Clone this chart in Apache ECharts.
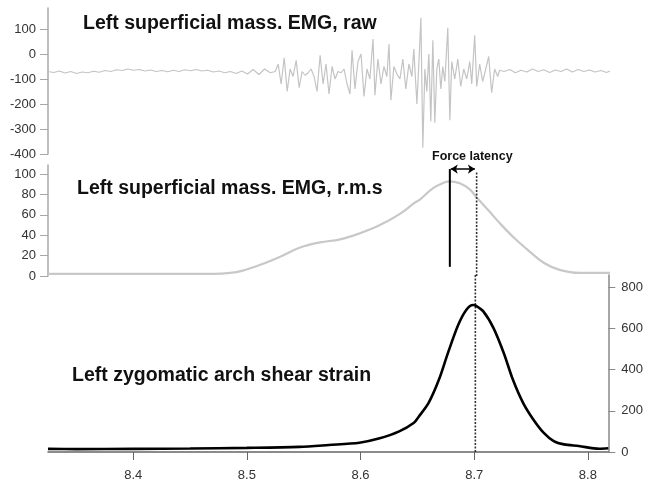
<!DOCTYPE html>
<html>
<head>
<meta charset="utf-8">
<script src="https://cdn.jsdelivr.net/npm/echarts@6/dist/echarts.min.js"></script>
<style>html,body{margin:0;padding:0;background:#fff}#c{width:646px;height:482px}</style>
</head>
<body>
<div id="c"></div>
<script>
// ---- data ----
var rawT = [8.325,8.330,8.335,8.340,8.345,8.350,8.355,8.360,8.365,8.370,8.375,8.380,8.385,8.390,8.395,8.400,8.405,8.410,8.415,8.420,8.425,8.430,8.435,8.440,8.445,8.450,8.455,8.460,8.465,8.470,8.475,8.480,8.485,8.490,8.495,8.500,8.505,8.510,8.515,8.520,
8.5243,8.5269,8.5295,8.5322,8.5348,8.5374,8.5400,8.5427,8.5453,8.5479,8.5505,8.5532,8.5558,8.5584,8.5610,8.5637,8.5663,8.5689,8.5715,8.5742,8.5768,8.5794,8.5821,8.5847,8.5873,8.5899,8.5917,8.5943,8.5969,8.5996,8.6022,8.6048,8.6074,8.6101,8.6118,8.6144,8.6171,8.6197,8.6223,8.6241,8.6258,8.6284,8.6311,8.6337,8.6363,8.6389,8.6416,8.6442,8.6459,8.6486,8.6503,8.6521,8.6538,8.6556,8.6573,8.6591,8.6608,8.6626,8.6643,8.6661,8.6678,8.6696,8.6713,8.6731,8.6757,8.6775,8.6792,8.6818,8.6845,8.6871,8.6897,8.6923,8.6950,8.6967,8.6993,8.7011,8.7037,8.7063,8.7090,8.7116,8.7142,8.7168,8.7195,8.7212,
8.725,8.730,8.735,8.740,8.745,8.750,8.755,8.760,8.765,8.770,8.775,8.780,8.785,8.790,8.795,8.800,8.805,8.810,8.815,8.818];
var rawV = [-70,-74,-68,-76,-70,-78,-72,-75,-69,-73,-66,-70,-63,-66,-60,-65,-62,-68,-64,-70,-66,-71,-65,-70,-63,-67,-62,-68,-65,-72,-68,-75,-70,-78,-68,-80,-62,-82,-60,-75,
-70,-40,-120,-15,-150,-60,-90,-25,-135,-70,-85,-75,-60,-90,-150,-5,-120,-40,-160,-50,-100,-70,-75,-60,-120,-160,15,-140,-30,0,-170,-60,-100,60,-165,-20,-120,-50,-90,40,-185,-50,-80,-100,-20,-140,-40,-90,20,-200,-40,145,-375,-60,-150,0,-270,55,-275,-60,-20,-140,-50,-110,105,-265,-30,-100,-20,-130,-60,-100,-30,-120,75,-130,-40,-110,-60,-10,-155,-60,-90,-65,
-70,-62,-75,-65,-72,-60,-70,-63,-74,-64,-70,-60,-72,-62,-70,-64,-72,-66,-74,-68];

var rmsT = [8.325,8.400,8.450,8.470,8.485,8.495,8.5112,8.5287,8.5462,8.5637,8.5812,8.5987,8.6162,8.6337,8.6468,8.6512,8.6626,8.6731,8.6775,8.6862,8.6950,8.7011,8.7125,8.7212,8.7343,8.7475,8.7606,8.7737,8.7912,8.818];
var rmsV = [2,2,2,2,3,5,11,19,28,33,36,42,50,61,72,75,86,92,93,91,85,77,63,52,37,24,12.5,6,3,3];

var strainT = [8.325,8.350,8.400,8.450,8.500,8.546,8.572,8.599,8.616,8.634,8.647,8.651,8.660,8.669,8.677,8.686,8.693,8.699,8.701,8.708,8.717,8.726,8.734,8.743,8.752,8.761,8.770,8.779,8.792,8.810,8.818];
var strainV = [15,14,15,17,20,25,34,45,65,100,142,170,240,352,483,618,690,714,712,683,602,481,352,239,158,94,53,37,29,16,18];

var xTicks = [8.4,8.5,8.6,8.7,8.8];
var rawTicks = [-400,-300,-200,-100,0,100];
var rmsTicks = [0,20,40,60,80,100];
var strainTicks = [0,200,400,600,800];

var emgOnset = 8.6775;   // solid line
var forcePeak = 8.701;   // dotted line

function pairs(t, v){ return t.map(function(x,i){ return [x, v[i]]; }); }

var chart = echarts.init(document.getElementById('c'), null, {renderer:'canvas'});
var FONT = '"Liberation Sans", Arial, sans-serif';
var xmin = 8.325, xmax = 8.818;
var LBL = 13;

function leftY(grid, min, max, ticks){
  return {
    type:'value', gridIndex:grid, min:min, max:max, position:'left',
    axisLine:{show:true, lineStyle:{color:'#a8a8a8', width:1.5}},
    axisTick:{show:true, inside:false, length:8, lineStyle:{color:'#a8a8a8'}, customValues:ticks},
    axisLabel:{show:true, margin:12, color:'#333', fontFamily:FONT, fontSize:LBL, customValues:ticks},
    splitLine:{show:false}
  };
}

var option = {
  animation:false,
  backgroundColor:'#fff',
  grid:[
    {left:48, right:36, top:8, height:146},
    {left:48, right:36, top:165, height:111},
    {left:48, right:36, top:275, height:178}
  ],
  xAxis:[
    {type:'value', gridIndex:0, min:xmin, max:xmax, show:false},
    {type:'value', gridIndex:1, min:xmin, max:xmax, show:false},
    {type:'value', gridIndex:2, min:xmin, max:xmax,
     axisLine:{show:true, onZero:false, lineStyle:{color:'#666', width:1.5}},
     axisTick:{show:true, inside:false, length:8, lineStyle:{color:'#666'}, customValues:xTicks},
     axisLabel:{show:true, margin:17, color:'#333', fontFamily:FONT, fontSize:LBL, customValues:xTicks,
       formatter:function(v){ return v.toFixed(1); }},
     splitLine:{show:false}}
  ],
  yAxis:[
    leftY(0, -400, 184, rawTicks),
    leftY(1, 0, 109, rmsTicks),
    {type:'value', gridIndex:2, min:0, max:860, position:'right',
     axisLine:{show:true, lineStyle:{color:'#888', width:1.5}},
     axisTick:{show:true, inside:false, length:7, lineStyle:{color:'#888'}, customValues:strainTicks},
     axisLabel:{show:true, margin:13, color:'#333', fontFamily:FONT, fontSize:LBL, customValues:strainTicks},
     splitLine:{show:false}}
  ],
  series:[
    {type:'line', xAxisIndex:0, yAxisIndex:0, data:pairs(rawT, rawV), showSymbol:false,
     lineStyle:{color:'#c4c4c4', width:1.2}},
    {type:'line', xAxisIndex:1, yAxisIndex:1, data:pairs(rmsT, rmsV), showSymbol:false, smooth:0.4,
     lineStyle:{color:'#c8c8c8', width:2.2},
     markLine:{silent:true, symbol:['arrow','arrow'], symbolSize:[7,7],
       label:{show:false},
       lineStyle:{color:'#000', width:1.5, type:'solid'},
       data:[[{coord:[emgOnset+0.0008,105]},{coord:[forcePeak-0.0015,105]}]]}},
    {type:'line', xAxisIndex:1, yAxisIndex:1, data:[[emgOnset,9],[emgOnset,105]], showSymbol:false,
     lineStyle:{color:'#000', width:2}},
    {type:'line', xAxisIndex:1, yAxisIndex:1, data:[[forcePeak,0],[forcePeak,102]], showSymbol:false,
     lineStyle:{color:'#333', width:1.6, type:[2,1.5]}},
    {type:'line', xAxisIndex:2, yAxisIndex:2, data:[[forcePeak,0],[forcePeak,860]], showSymbol:false,
     lineStyle:{color:'#333', width:1.6, type:[2,1.5]}},
    {type:'line', xAxisIndex:2, yAxisIndex:2, data:pairs(strainT, strainV), showSymbol:false, smooth:0.3,
     lineStyle:{color:'#000', width:2.6}}
  ],
  graphic:[
    {type:'text', left:83, top:14, style:{text:'Left superficial mass. EMG, raw', font:'bold 19.5px ' + FONT, fill:'#111'}},
    {type:'text', left:77, top:179, style:{text:'Left superficial mass. EMG, r.m.s', font:'bold 19.5px ' + FONT, fill:'#111'}},
    {type:'text', left:72, top:366, style:{text:'Left zygomatic arch shear strain', font:'bold 19.5px ' + FONT, fill:'#111'}},
    {type:'text', left:432, top:150, style:{text:'Force latency', font:'bold 12.5px ' + FONT, fill:'#111'}}
  ]
};
chart.setOption(option);
</script>
</body>
</html>
